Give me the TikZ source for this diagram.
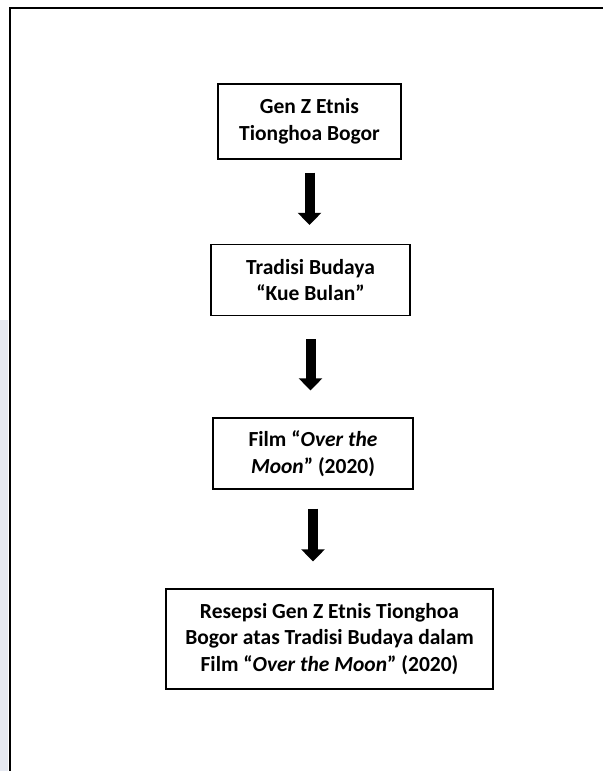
\documentclass[tikz,border=0pt]{standalone}
\usepackage{fontspec}
\setmainfont{Carlito}
\usetikzlibrary{arrows.meta}
\definecolor{stripgrey}{HTML}{E6E9F1}

\begin{document}
\begin{tikzpicture}[x=1pt,y=-1pt,
		flowbox/.style={draw,line width=1.3pt,inner sep=0pt,align=center,font=\bfseries\fontsize{21.5}{26.5}\selectfont},
		blockarrow/.style={line width=10pt,-{Triangle[width=23pt,length=12pt]}}]
		\useasboundingbox (0,0) rectangle (603,771);
		\fill[stripgrey] (0,320) rectangle (8,771);
		\draw[line width=2pt] (9.5,771) -- (9.5,8) -- (603,8);
		\node (gen) at (309.5,121.5)[flowbox,minimum width=183pt,minimum height=75pt]{Gen Z Etnis\\Tionghoa Bogor} ;
		\node (tradisi) at (310.5,280)[flowbox,minimum width=199pt,minimum height=71pt]{Tradisi Budaya\\“Kue Bulan”} ;
		\node (film) at (313,453.5)[flowbox,minimum width=200pt,minimum height=71pt]{Film “\textit{Over the}\\\textit{Moon}” (2020)} ;
		\node (resepsi) at (329.5,639)[flowbox,minimum width=327pt,minimum height=100pt]{Resepsi Gen Z Etnis Tionghoa\\Bogor atas Tradisi Budaya dalam\\Film “\textit{Over the Moon}” (2020)} ;
		\draw[blockarrow,shorten <=13pt,shorten >=19pt] (gen.south) -- (gen.south |- tradisi.north);
		\draw[blockarrow,shorten <=23pt,shorten >=27pt] (tradisi.south) -- (tradisi.south |- film.north);
		\draw[blockarrow,shorten <=19pt,shorten >=27pt] (film.south) -- (film.south |- resepsi.north);
		\end{tikzpicture}
\end{document}
